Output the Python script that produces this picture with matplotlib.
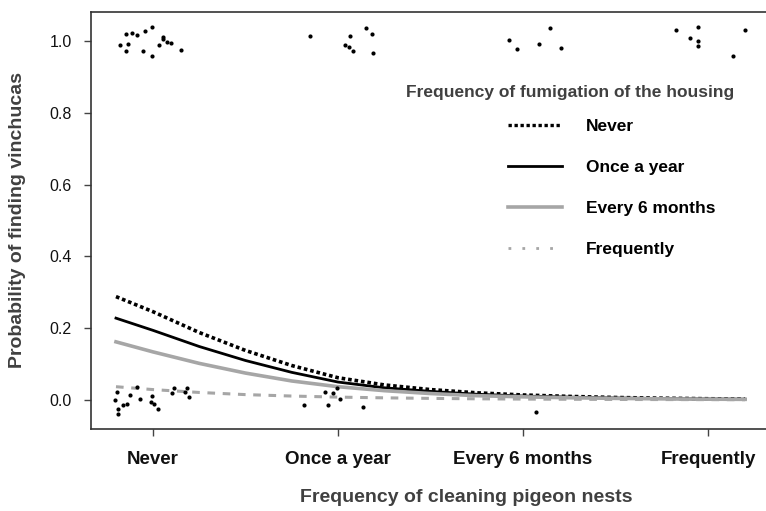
import matplotlib
matplotlib.use("Agg")
import matplotlib.pyplot as plt
from matplotlib.lines import Line2D

plt.rcParams['font.family'] = ['Liberation Sans', 'DejaVu Sans']

# ---- data ----
categories = ["Never", "Once a year", "Every 6 months", "Frequently"]
cat_pos = [1, 2, 3, 4]

curve_x = [0.8, 1.0, 1.25, 1.5, 1.75, 2.0, 2.25, 2.5, 2.75, 3.0, 3.25, 3.5, 3.75, 4.0, 4.2]
fum_never = [0.288, 0.246, 0.188, 0.138, 0.096, 0.062, 0.042, 0.029, 0.020, 0.014, 0.010, 0.007, 0.005, 0.0035, 0.0027]
fum_once = [0.228, 0.194, 0.149, 0.110, 0.077, 0.050, 0.034, 0.024, 0.016, 0.011, 0.008, 0.0055, 0.004, 0.0028, 0.0022]
fum_6m = [0.162, 0.134, 0.102, 0.075, 0.053, 0.037, 0.026, 0.018, 0.012, 0.0088, 0.0063, 0.0045, 0.0032, 0.0023, 0.0018]
fum_freq = [0.037, 0.029, 0.021, 0.015, 0.011, 0.008, 0.006, 0.0045, 0.0033, 0.0025, 0.002, 0.0015, 0.0012, 0.001, 0.0008]

pts_x = [0.852, 0.885, 0.912, 0.957, 0.993, 0.822, 0.863, 0.854, 0.944, 0.993, 1.032, 1.052, 1.056, 1.077, 1.096, 1.150,
         1.849, 2.065, 2.150, 2.182, 2.038, 2.061, 2.083, 2.188,
         2.924, 2.968, 3.088, 3.146, 3.204,
         3.827, 3.904, 3.944, 3.944, 3.944, 4.137, 4.200,
         0.807, 0.795, 0.915, 0.876, 0.930, 0.993, 0.988, 0.836, 0.858, 0.811, 0.811, 1.005, 1.029, 1.101, 1.114, 1.173, 1.185, 1.196,
         1.930, 1.975, 1.993, 2.011, 1.818, 1.948, 2.137,
         3.070]
pts_y = [1.019, 1.023, 1.018, 1.029, 1.038, 0.989, 0.992, 0.971, 0.973, 0.959, 0.988, 1.012, 1.005, 0.997, 0.994, 0.975,
         1.013, 1.015, 1.036, 1.019, 0.988, 0.984, 0.972, 0.967,
         1.002, 0.978, 0.992, 1.035, 0.980,
         1.030, 1.008, 1.039, 1.000, 0.986, 0.959, 1.032,
         0.023, 0.000, 0.037, 0.013, 0.002, 0.012, -0.005, -0.015, -0.012, -0.026, -0.040, -0.011, -0.026, 0.019, 0.033, 0.023, 0.033, 0.009,
         0.023, 0.020, 0.033, 0.003, -0.014, -0.013, -0.019,
         -0.033]

legend_labels = ["Never", "Once a year", "Every 6 months", "Frequently"]
yticks = [0.0, 0.2, 0.4, 0.6, 0.8, 1.0]

# ---- figure ----
W, H = 766, 511
fig = plt.figure(figsize=(W / 100, H / 100), dpi=100)
ax = fig.add_axes([91 / W, (H - 429) / H, (770 - 91) / W, (429 - 12) / H])

grey = "#a6a6a6"
ax.plot(curve_x, fum_never, color="black", lw=2.6, linestyle=(0, (1, 0.8)), zorder=2)
ax.plot(curve_x, fum_once, color="black", lw=2.0, zorder=2)
ax.plot(curve_x, fum_6m, color=grey, lw=2.6, zorder=2)
ax.plot(curve_x, fum_freq, color=grey, lw=2.2, linestyle=(0, (2.5, 2.5)), zorder=2)

ax.scatter(pts_x, pts_y, s=9, color="black", zorder=3, linewidths=0)

ax.set_xlim(0.665, 4.335)
ax.set_ylim(-0.0808, 1.0808)
ax.set_xticks(cat_pos)
ax.set_xticklabels(categories, fontweight="bold", fontsize=13.5, color="#111111")
ax.set_yticks(yticks)
ax.set_yticklabels([f"{v:.1f}" for v in yticks], fontsize=11.5, color="#111111")
ax.tick_params(axis="y", direction="out", length=5, width=1, color="#444444", pad=9)
ax.tick_params(axis="x", direction="out", length=5, width=1, color="#444444", pad=10.5)

for s in ["left", "bottom", "top", "right"]:
    ax.spines[s].set_color("#333333")
    ax.spines[s].set_linewidth(1.2)

fig.text(466 / W, (H - 497) / H, "Frequency of cleaning pigeon nests", ha="center", va="center",
         fontsize=14, fontweight="bold", color="#404040")
fig.text(18 / W, (H - 220) / H, "Probability of finding vinchucas", ha="center", va="center",
         rotation=90, fontsize=14, fontweight="bold", color="#404040")

# legend
handles = [Line2D([], [], color="black", lw=2.4, linestyle=(0, (1, 0.8))),
           Line2D([], [], color="black", lw=2.0),
           Line2D([], [], color=grey, lw=2.6),
           Line2D([], [], color=grey, lw=2.0, linestyle=(0, (1, 4)))]
fig.text(570 / W, (H - 92) / H, "Frequency of fumigation of the housing", ha="center", va="center",
         fontsize=12.5, fontweight="bold", color="#404040")
ax.legend(handles, legend_labels, loc="upper left", bbox_to_anchor=(508 / W, (H - 119) / H),
          bbox_transform=fig.transFigure, frameon=False, borderpad=0, borderaxespad=0,
          handlelength=3.1, handletextpad=1.38, labelspacing=1.48,
          prop={"weight": "bold", "size": 12.5})

fig.savefig("out.png", dpi=100)
